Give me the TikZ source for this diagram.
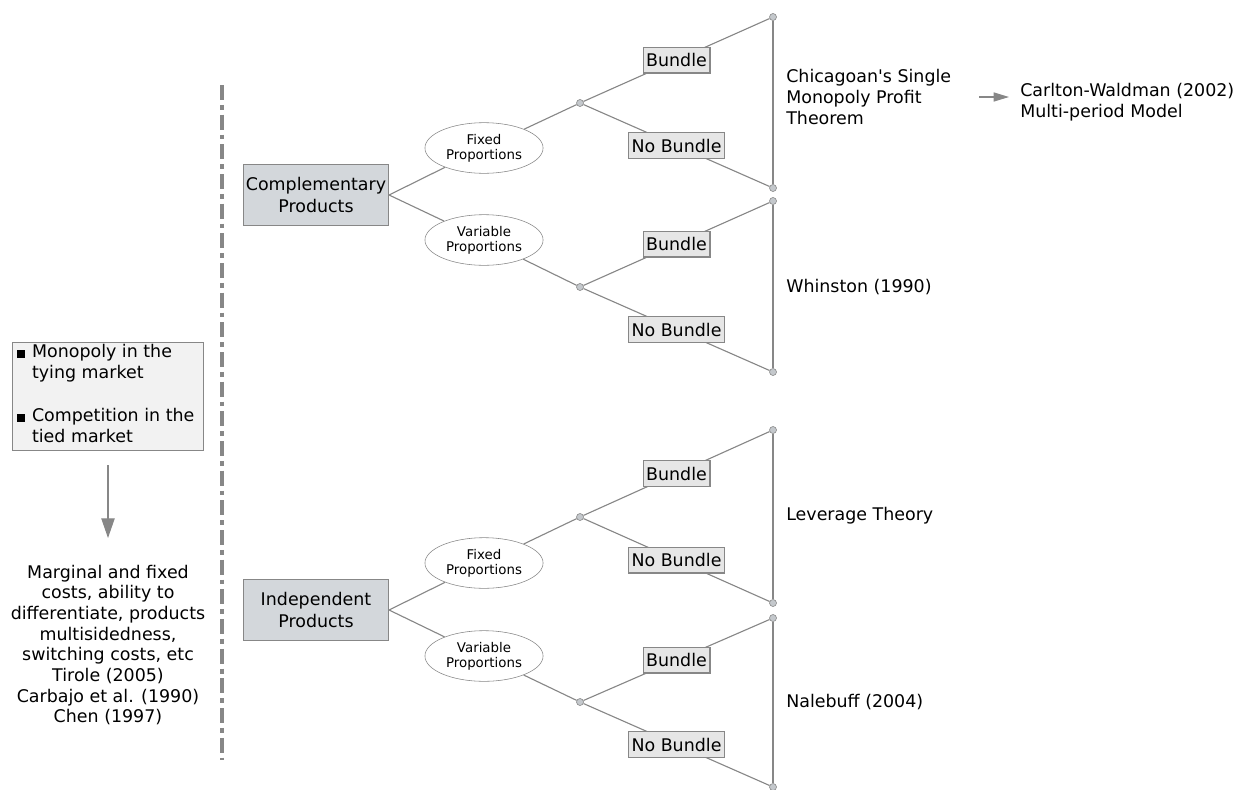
\documentclass[tikz,border=0pt]{standalone}
\usepackage{fontspec}
\setmainfont{DejaVu Sans}[Ligatures=TeXOff]
\usetikzlibrary{positioning,shapes.geometric,arrows.meta}
\definecolor{linegray}{HTML}{878787}
\definecolor{prodfill}{HTML}{D3D7DB}
\definecolor{choicefill}{HTML}{E6E6E6}
\definecolor{condfill}{HTML}{F2F2F2}
\definecolor{dotfill}{HTML}{C4C8CC}
\newcommand{\sqbullet}{\rule{5.5pt}{5.5pt}}

\begin{document}
\begin{tikzpicture}[
    x=0.025cm, y=-0.025cm,
    every node/.style={font=\fontsize{12.4}{15}\selectfont},
    product/.style={draw=linegray, fill=prodfill, align=center, minimum width=103.5pt, minimum height=43pt, inner sep=0pt},
    propo/.style={ellipse, draw=linegray, fill=white, align=center, minimum width=84pt, minimum height=36pt, inner sep=0pt, font=\fontsize{9.5}{10.8}\selectfont},
    choice/.style={draw=linegray, fill=choicefill, minimum height=18.4pt, inner xsep=2.2pt, inner ysep=0pt},
    dot/.style={circle, draw=linegray, fill=dotfill, minimum size=5pt, inner sep=0pt},
    label/.style={anchor=west, align=left, inner sep=0pt},
    link/.style={draw=linegray, line width=0.8pt},
    arrow/.style={draw=linegray, line width=0.8pt, -{Triangle[length=11pt, width=6.5pt, fill=linegray]}}
  ]
    \useasboundingbox (0,0) rectangle (1240,789);

    % left column
    \node[draw=linegray, fill=condfill, minimum width=136pt, minimum height=76.5pt, inner sep=0pt] (cond) at (108,396)
      {\makebox[129pt][l]{\begin{tabular}{@{}l@{\hspace{5pt}}l@{}}
        \sqbullet & Monopoly in the\\
                  & tying market\\[15.5pt]
        \sqbullet & Competition in the\\
                  & tied market
      \end{tabular}}};
    \node[align=center, inner sep=0pt, font=\fontsize{12.4}{14.7}\selectfont] (costs) at (108,645)
      {Marginal and fixed\\costs, ability to\\differentiate, products\\multisidedness,\\switching costs, etc\\Tirole (2005)\\Carbajo et al. (1990)\\Chen (1997)};
    \coordinate (costtip) at (108,538);
    \draw[link, -{Triangle[length=14pt, width=9.5pt, fill=linegray]}, shorten <=0.375cm] (cond.south) -- (costtip);

    % separator
    \draw[linegray, line width=3.5pt, dash pattern=on 10.6pt off 3.5pt on 3.5pt off 3.5pt] (222,85) -- (222,760);

    % products
    \node[product] (cp) at (316,195) {Complementary\\Products};
    \node[product] (ip) at (316,610) {Independent\\Products};

    \node[propo] (fix1) at (484,148) {Fixed\\Proportions};
    \node[propo] (var1) at (484,240) {Variable\\Proportions};
    \node[propo] (fix2) at (484,563) {Fixed\\Proportions};
    \node[propo] (var2) at (484,656) {Variable\\Proportions};

    \draw[link] (cp.east) -- (fix1);
    \draw[link] (cp.east) -- (var1);
    \draw[link] (ip.east) -- (fix2);
    \draw[link] (ip.east) -- (var2);

    % decision points
    \node[dot] (d1) at (580,103) {};
    \node[dot] (d2) at (580,287) {};
    \node[dot] (d3) at (580,517) {};
    \node[dot] (d4) at (580,702) {};

    \draw[link] (fix1) -- (d1);
    \draw[link] (var1) -- (d2);
    \draw[link] (fix2) -- (d3);
    \draw[link] (var2) -- (d4);

    % outcomes
    \node[dot] (t1) at (773,17) {};
    \node[dot] (t2) at (773,188) {};
    \node[dot] (t3) at (773,201) {};
    \node[dot] (t4) at (773,372) {};
    \node[dot] (t5) at (773,430) {};
    \node[dot] (t6) at (773,603) {};
    \node[dot] (t7) at (773,618) {};
    \node[dot] (t8) at (773,787) {};

    \draw[link] (d1) -- node[choice]{Bundle} (t1);
    \draw[link] (d1) -- node[choice]{No Bundle} (t2);
    \draw[link] (d2) -- node[choice]{Bundle} (t3);
    \draw[link] (d2) -- node[choice]{No Bundle} (t4);
    \draw[link] (d3) -- node[choice]{Bundle} (t5);
    \draw[link] (d3) -- node[choice]{No Bundle} (t6);
    \draw[link] (d4) -- node[choice]{Bundle} (t7);
    \draw[link] (d4) -- node[choice]{No Bundle} (t8);

    \draw[link] (t1) -- (t2);
    \draw[link] (t3) -- (t4);
    \draw[link] (t5) -- (t6);
    \draw[link] (t7) -- (t8);

    % theories
    \node[label] (chicago) at (786,97) {Chicagoan's Single\\Monopoly Profit\\Theorem};
    \node[label] (whinston) at (786,287) {Whinston (1990)};
    \node[label] (leverage) at (786,516) {Leverage Theory};
    \node[label] (nalebuff) at (786,702) {Nalebuff (2004)};
    \node[label] (carlton) at (1020,102) {Carlton-Waldman (2002)\\Multi-period Model};

    \draw[arrow, shorten <=0.7cm, shorten >=0.275cm] (chicago.east) -- (carlton.west |- chicago.east);
  \end{tikzpicture}
\end{document}
